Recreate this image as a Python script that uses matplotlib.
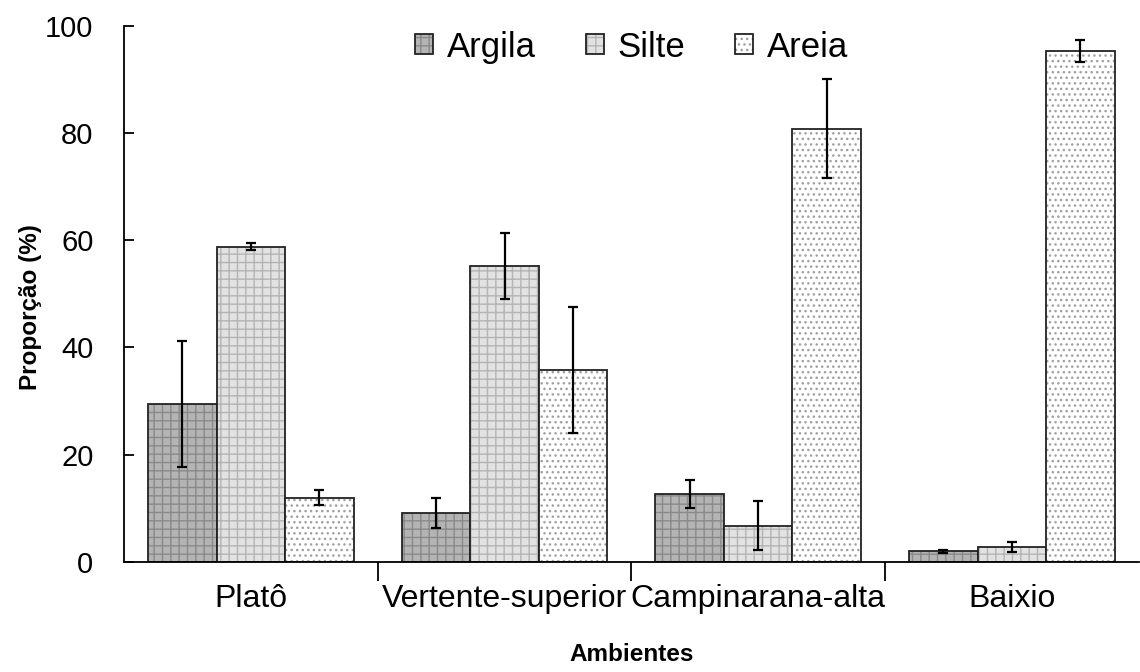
import numpy as np
import matplotlib.pyplot as plt

plt.rcParams['font.family'] = ['Liberation Sans', 'DejaVu Sans']
plt.rcParams['hatch.linewidth'] = 1.0

ambientes = ["Platô", "Vertente-superior", "Campinarana-alta", "Baixio"]
series = ["Argila", "Silte", "Areia"]
argila = [29.5, 9.2, 12.6, 2.0]
argila_err = [11.8, 2.8, 2.6, 0.3]
silte = [58.8, 55.2, 6.8, 2.8]
silte_err = [0.6, 6.2, 4.5, 1.0]
areia = [12.0, 35.8, 80.8, 95.3]
areia_err = [1.4, 11.8, 9.2, 2.0]

values = [argila, silte, areia]
errors = [argila_err, silte_err, areia_err]
faces = ['#b4b4b4', '#e2e2e2', '#ffffff']
hatch_cols = ['#8a8a8a', '#b4b4b4', '#a0a0a0']
hatches = ['++', '++', '...']

fig = plt.figure(figsize=(11.4, 6.72), dpi=100)
ax = fig.add_axes([0.1088, 0.1637, 0.890, 0.798])

x = np.arange(len(ambientes))
w = 0.27
handles = []
for i in range(3):
    pos = x + (i - 1) * w
    fill = ax.bar(pos, values[i], width=w, color=faces[i], edgecolor=hatch_cols[i],
                  hatch=hatches[i], linewidth=0)
    edge = ax.bar(pos, values[i], width=w, color='none', edgecolor='#222222', linewidth=1.3)
    ax.errorbar(pos, values[i], yerr=errors[i], fmt='none', ecolor='black',
                elinewidth=1.6, capsize=3.5, capthick=1.6)
    handles.append((fill, edge))

ax.set_xlim(-0.5, 3.5)
ax.set_ylim(0, 100)
ax.set_yticks([0, 20, 40, 60, 80, 100])
ax.tick_params(axis='y', labelsize=21, length=7, width=1.3, direction='in', pad=22)
ax.set_xticks(x)
ax.set_xticklabels(ambientes, fontsize=23)
ax.tick_params(axis='x', which='major', length=0, pad=16)
ax.set_xticks([0.5, 1.5, 2.5], minor=True)
ax.tick_params(axis='x', which='minor', length=14, width=1.3, direction='out')
for s in ['top', 'right']:
    ax.spines[s].set_visible(False)
for s in ['left', 'bottom']:
    ax.spines[s].set_linewidth(1.3)

ax.set_ylabel('Proporção (%)', fontsize=17.5, fontweight='bold')
ax.yaxis.set_label_coords(-0.081, 0.476)
ax.set_xlabel('Ambientes', fontsize=17.5, fontweight='bold', va='top')
ax.xaxis.set_label_coords(0.5, -0.151)

leg = ax.legend(handles, series, loc='center left', bbox_to_anchor=(0.364, 0.930),
                bbox_transform=fig.transFigure, ncol=3, frameon=False,
                fontsize=25, handlelength=0.52, handleheight=0.52, handletextpad=0.4,
                columnspacing=1.43, borderpad=0, borderaxespad=0)

fig.savefig('out.png', dpi=100)
